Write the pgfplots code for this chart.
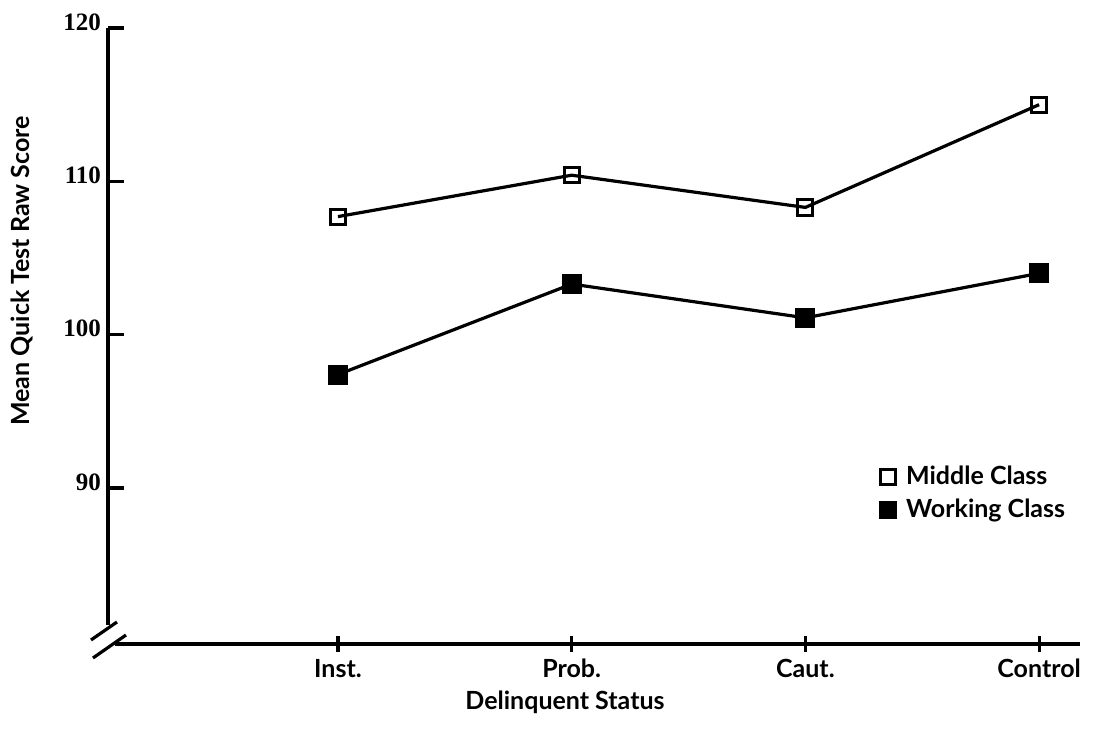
\documentclass[border=0pt]{standalone}
\usepackage{pgfplots}
\pgfplotsset{compat=1.18}
\usepackage{fontspec}
\setmainfont{Lato}
\newfontfamily\numfont{Liberation Serif}
\newcommand\lbl{\fontsize{12.5}{15}\selectfont\bfseries}
\begin{document}
\begin{tikzpicture}
\useasboundingbox (-54pt,-43.5pt) rectangle (500pt,322pt);
\begin{axis}[
  at={(0,0)}, anchor=south west,
  scale only axis, width=486pt, height=308pt,
  xmin=-0.984, xmax=3.175, ymin=79.83, ymax=120,
  clip=false,
  axis line style={draw=none},
  xtick={0,1,2,3}, xticklabels={Inst.,Prob.,Caut.,Control},
  ytick={90,100,110,120},
  tick pos=left,
  xtick align=center, ytick align=inside,
  major tick length=8pt,
  tick style={line width=1.6pt, black},
  /pgf/number format/assume math mode=true,
  xticklabel style={font=\lbl},
  yticklabel style={font=\numfont\fontsize{12.5}{15}\selectfont\bfseries, yshift=3pt},
  legend style={draw=none, fill=none, at={(axis description cs:0.787,0.302)}, anchor=north west,
    font=\lbl, row sep=1.5pt, /tikz/every odd column/.append style={column sep=3pt}},
  legend cell align=left,
]
\addplot[black, line width=1.6pt, mark=square, mark size=3.8pt, mark options={fill=white, line width=1.5pt}, forget plot]
  coordinates {(0,107.7) (1,110.4) (2,108.3) (3,115.0)};
\addplot[black, line width=1.6pt, mark=square*, mark size=4.2pt, forget plot]
  coordinates {(0,97.4) (1,103.3) (2,101.1) (3,104.0)};
\addlegendimage{only marks, mark=square, mark size=3.8pt, mark options={line width=1.5pt, fill=white}}
\addlegendentry{Middle Class}
\addlegendimage{only marks, mark=square*, mark size=4.2pt}
\addlegendentry{Working Class}
\end{axis}
\draw[line width=1.6pt] (0,9.5pt) -- (0,308pt);
\draw[line width=1.6pt] (3.5pt,0) -- (486pt,0);
\draw[line width=1.6pt] (-8.5pt,2pt) -- (4.5pt,11pt);
\draw[line width=1.6pt] (-7.5pt,-7pt) -- (9pt,4.5pt);
\node[font=\lbl] at (228.5pt,-29pt) {Delinquent Status};
\node[rotate=90, font=\lbl] at (-43pt,186.5pt) {Mean Quick Test Raw Score};
\end{tikzpicture}
\end{document}
